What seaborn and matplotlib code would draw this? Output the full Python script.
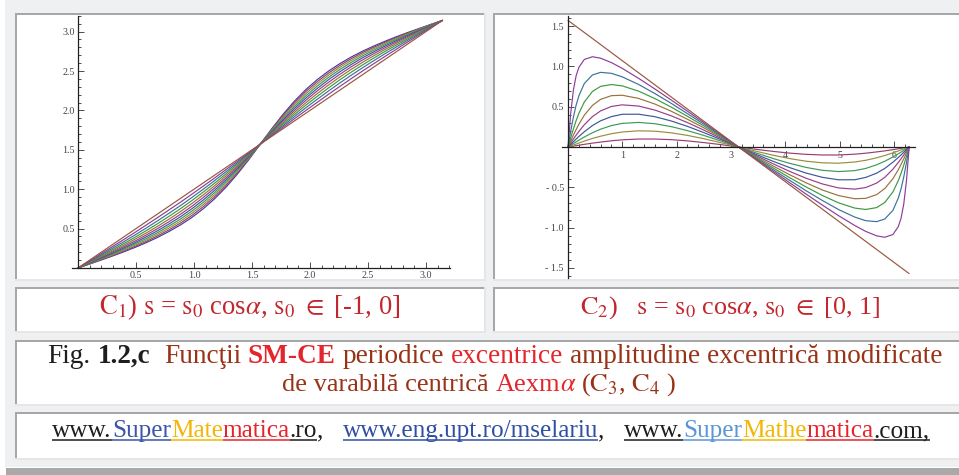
import matplotlib
matplotlib.use("Agg")
import numpy as np
import pandas as pd
import matplotlib.pyplot as plt
import seaborn as sns
from matplotlib.patches import Rectangle
from matplotlib.ticker import MultipleLocator

# ---------------- data: left panel C1 (s0 in [-1, 0]) ----------------
left_alpha = [0.000, 0.098, 0.196, 0.295, 0.393, 0.491, 0.589, 0.687, 0.785, 0.884, 0.982,
              1.080, 1.178, 1.276, 1.374, 1.473, 1.571, 1.669, 1.767, 1.865, 1.963, 2.062,
              2.160, 2.258, 2.356, 2.454, 2.553, 2.651, 2.749, 2.847, 2.945, 3.043, 3.142]
left_s0 = [-1.0, -0.9, -0.8, -0.7, -0.6, -0.5, -0.4, -0.3, -0.2, -0.1, 0.0]
left_m10 = [0, .049, .099, .151, .204, .261, .322, .389, .464, .547, .642, .752, .879, 1.025, 1.192, 1.376, 1.571,
            1.765, 1.949, 2.116, 2.263, 2.390, 2.499, 2.594, 2.678, 2.752, 2.819, 2.880, 2.937, 2.991, 3.042, 3.092, 3.142]
left_m09 = [0, .052, .104, .158, .215, .274, .338, .408, .484, .570, .667, .778, .904, 1.048, 1.209, 1.386, 1.571,
            1.756, 1.932, 2.094, 2.238, 2.364, 2.474, 2.571, 2.657, 2.734, 2.803, 2.867, 2.927, 2.983, 3.037, 3.090, 3.142]
left_m08 = [0, .055, .110, .167, .226, .289, .355, .428, .507, .595, .694, .805, .930, 1.071, 1.227, 1.395, 1.571,
            1.746, 1.915, 2.071, 2.211, 2.337, 2.448, 2.547, 2.635, 2.714, 2.786, 2.853, 2.915, 2.975, 3.032, 3.087, 3.142]
left_m07 = [0, .058, .116, .177, .239, .305, .374, .450, .532, .622, .722, .833, .957, 1.095, 1.245, 1.405, 1.571,
            1.737, 1.897, 2.047, 2.184, 2.308, 2.420, 2.520, 2.610, 2.692, 2.767, 2.837, 2.903, 2.965, 3.025, 3.084, 3.142]
left_m06 = [0, .061, .124, .187, .253, .322, .396, .474, .559, .651, .752, .863, .986, 1.119, 1.263, 1.414, 1.571,
            1.727, 1.879, 2.023, 2.156, 2.278, 2.390, 2.491, 2.583, 2.668, 2.746, 2.819, 2.888, 2.954, 3.018, 3.080, 3.142]
left_m05 = [0, .066, .132, .200, .269, .342, .419, .501, .588, .682, .784, .895, 1.015, 1.144, 1.281, 1.424, 1.571,
            1.717, 1.861, 1.998, 2.127, 2.247, 2.357, 2.459, 2.554, 2.641, 2.723, 2.799, 2.872, 2.942, 3.010, 3.076, 3.142]
left_m04 = [0, .070, .141, .213, .288, .365, .445, .530, .620, .716, .819, .928, 1.045, 1.169, 1.299, 1.434, 1.571,
            1.708, 1.842, 1.972, 2.096, 2.213, 2.323, 2.425, 2.521, 2.611, 2.696, 2.777, 2.854, 2.928, 3.000, 3.071, 3.142]
left_m03 = [0, .076, .152, .229, .308, .390, .475, .563, .656, .753, .856, .964, 1.077, 1.195, 1.318, 1.443, 1.571,
            1.698, 1.824, 1.946, 2.065, 2.178, 2.286, 2.389, 2.486, 2.578, 2.667, 2.752, 2.833, 2.912, 2.990, 3.066, 3.142]
left_m02 = [0, .082, .164, .248, .332, .419, .508, .600, .695, .793, .895, 1.000, 1.110, 1.222, 1.336, 1.453, 1.571,
            1.688, 1.805, 1.920, 2.032, 2.141, 2.247, 2.349, 2.447, 2.542, 2.634, 2.723, 2.809, 2.894, 2.977, 3.060, 3.142]
left_m01 = [0, .089, .179, .269, .360, .452, .546, .641, .738, .836, .937, 1.039, 1.143, 1.249, 1.355, 1.463, 1.571,
            1.679, 1.786, 1.893, 1.998, 2.102, 2.205, 2.305, 2.404, 2.501, 2.596, 2.689, 2.781, 2.873, 2.963, 3.052, 3.142]
left_p00 = [0.000, 0.098, 0.196, 0.295, 0.393, 0.491, 0.589, 0.687, 0.785, 0.884, 0.982,
            1.080, 1.178, 1.276, 1.374, 1.473, 1.571, 1.669, 1.767, 1.865, 1.963, 2.062,
            2.160, 2.258, 2.356, 2.454, 2.553, 2.651, 2.749, 2.847, 2.945, 3.043, 3.142]
left_curves = [left_m10, left_m09, left_m08, left_m07, left_m06, left_m05,
               left_m04, left_m03, left_m02, left_m01, left_p00]
left_colors = ['#3f3d99', '#993d71', '#998d3d', '#3d9958', '#3d5799', '#993d8b',
               '#99723d', '#3d993e', '#3d7199', '#8c3d99', '#99573d']
left_xticks = [0.5, 1.0, 1.5, 2.0, 2.5, 3.0]
left_yticks = [0.5, 1.0, 1.5, 2.0, 2.5, 3.0]

# ---------------- data: right panel C2 (s0 in [0, 1]) ----------------
right_alpha = [0, 0.05, 0.1, 0.15, 0.2, 0.3, 0.45, 0.6, 0.8, 1.0, 1.3, 1.6, 1.9, 2.2, 2.5, 2.8, 3.142,
               3.483, 3.783, 4.083, 4.383, 4.683, 4.983, 5.283, 5.483, 5.683, 5.833, 5.983,
               6.083, 6.133, 6.183, 6.233, 6.283]
right_s0 = [0.1, 0.2, 0.3, 0.4, 0.5, 0.6, 0.7, 0.8, 0.9]
right_01 = [0, .006, .011, .017, .022, .033, .048, .061, .077, .089, .099, .099, .091, .076, .055, .031, 0,
            -.031, -.055, -.076, -.091, -.099, -.099, -.089, -.077, -.061, -.048, -.033, -.022, -.017, -.011, -.006, 0]
right_02 = [0, .012, .025, .037, .049, .073, .106, .134, .165, .186, .201, .196, .176, .144, .103, .056, 0,
            -.056, -.103, -.144, -.176, -.196, -.201, -.186, -.165, -.134, -.106, -.073, -.049, -.037, -.025, -.012, 0]
right_03 = [0, .021, .043, .064, .084, .124, .177, .221, .266, .293, .305, .289, .253, .203, .144, .078, 0,
            -.078, -.144, -.203, -.253, -.289, -.305, -.293, -.266, -.221, -.177, -.124, -.084, -.064, -.043, -.021, 0]
right_04 = [0, .033, .066, .099, .130, .189, .266, .325, .377, .406, .407, .376, .323, .256, .179, .097, 0,
            -.097, -.179, -.256, -.323, -.376, -.407, -.406, -.377, -.325, -.266, -.189, -.130, -.099, -.066, -.033, 0]
right_05 = [0, .050, .099, .147, .192, .276, .377, .448, .503, .523, .508, .458, .387, .303, .210, .113, 0,
            -.113, -.210, -.303, -.387, -.458, -.508, -.523, -.503, -.448, -.377, -.276, -.192, -.147, -.099, -.050, 0]
right_06 = [0, .075, .148, .217, .282, .394, .516, .591, .637, .642, .603, .533, .444, .344, .238, .128, 0,
            -.128, -.238, -.344, -.444, -.533, -.603, -.642, -.637, -.591, -.516, -.394, -.282, -.217, -.148, -.075, 0]
right_07 = [0, .116, .226, .328, .417, .558, .689, .752, .775, .758, .693, .601, .495, .381, .262, .140, 0,
            -.140, -.262, -.381, -.495, -.601, -.693, -.758, -.775, -.752, -.689, -.558, -.417, -.328, -.226, -.116, 0]
right_08 = [0, .196, .373, .520, .634, .787, .894, .926, .914, .870, .776, .663, .542, .414, .284, .152, 0,
            -.152, -.284, -.414, -.542, -.663, -.776, -.870, -.914, -.926, -.894, -.787, -.634, -.520, -.373, -.196, 0]
right_09 = [0, .419, .710, .885, .988, 1.086, 1.120, 1.102, 1.047, .975, .852, .720, .583, .444, .303, .162, 0,
            -.162, -.303, -.444, -.583, -.720, -.852, -.975, -1.047, -1.102, -1.120, -1.086, -.988, -.885, -.710, -.419, 0]
right_curves = [right_01, right_02, right_03, right_04, right_05, right_06, right_07, right_08, right_09]
right_line_s0 = 1.0
right_line_alpha = [0.0, 6.283]
right_line_y = [1.571, -1.571]
right_colors = ['#993d71', '#998d3d', '#3d9958', '#3d5799', '#993d8b', '#99723d',
                '#3d993e', '#3d7199', '#8c3d99', '#99573d']
right_xticks = [1, 2, 3, 4, 5, 6]
right_yticks = [-1.5, -1.0, -0.5, 0.5, 1.0, 1.5]
right_yticklabels = ['- 1.5', '- 1.0', '- 0.5', '0.5', '1.0', '1.5']

# ---------------- texts ----------------
cap_left = r"$\mathrm{C}_1$) $\mathrm{s}$ = $\mathrm{s}_0$ cos$\alpha$, $\mathrm{s}_0$ $\in$ [-1, 0]"
cap_right = r"$\mathrm{C}_2$)   $\mathrm{s}$ = $\mathrm{s}_0$ cos$\alpha$, $\mathrm{s}_0$ $\in$ [0, 1]"
BLACK, BROWN, RED = '#1e1e1e', '#993318', '#e3262b'
fig_line1 = [("Fig. ", BLACK, 'normal', False), ("1.2,c", BLACK, 'bold', False),
             ("  Funcţii ", BROWN, 'normal', False), ("SM-CE", RED, 'bold', False),
             (" periodice ", BROWN, 'normal', False), ("excentrice", RED, 'normal', False),
             (" amplitudine excentrică modificate", BROWN, 'normal', False)]
fig_line2 = [("de varabilă centrică ", BROWN, 'normal', False), ("Aexm", RED, 'normal', False),
             (r"$\alpha$", RED, 'normal', False),
             (r" ($\mathrm{C}_3$, $\mathrm{C}_4$ )", BROWN, 'normal', False)]
url_line = [("www.", BLACK, 'normal', True), ("Super", '#3b55a8', 'normal', True),
            ("Mate", '#f2b705', 'normal', True), ("matica", '#e8232a', 'normal', True),
            (".ro", BLACK, 'normal', True), (",   ", BLACK, 'normal', False),
            ("www.eng.upt.ro/mselariu", '#2f4fa2', 'normal', True), (",   ", BLACK, 'normal', False),
            ("www.", BLACK, 'normal', True), ("Super", '#5b95d8', 'normal', True),
            ("Mathe", '#f2b705', 'normal', True), ("matica", '#e8232a', 'normal', True),
            (".com,", BLACK, 'normal', True)]

# ---------------- style ----------------
sns.set_theme(style="white")
plt.rcParams['font.family'] = ['Liberation Serif', 'DejaVu Serif']
plt.rcParams['mathtext.fontset'] = 'stix'

W, H = 959, 475
fig = plt.figure(figsize=(W / 100, H / 100), dpi=100, facecolor='white')
bg = fig.add_axes([0, 0, 1, 1], zorder=0)
bg.set_xlim(0, W)
bg.set_ylim(H, 0)
bg.axis('off')

bg.add_patch(Rectangle((5, 0), W - 5, 467, color='#eff0f2', lw=0))
bg.add_patch(Rectangle((6, 467.5), W - 6, 8, color='#a9a9ab', lw=0))
DARK, LIGHT = '#a7a7a9', '#e6e6e8'
cells = [(15, 13, 486, 281), (493, 13, 961, 281), (15, 287, 486, 333),
         (493, 287, 961, 333), (15, 340, 961, 406), (15, 412, 961, 460)]
for x0, y0, x1, y1 in cells:
    bg.add_patch(Rectangle((x0, y0), x1 - x0, y1 - y0, color='white', lw=0))
    bg.add_patch(Rectangle((x0, y0), x1 - x0, 2, color=DARK, lw=0))
    bg.add_patch(Rectangle((x0, y0), 2, y1 - y0, color=DARK, lw=0))
    bg.add_patch(Rectangle((x0, y1 - 2), x1 - x0, 2, color=LIGHT, lw=0))
    bg.add_patch(Rectangle((x1 - 2, y0), 2, y1 - y0, color=LIGHT, lw=0))

renderer = fig.canvas.get_renderer()


def seg_width(s, size, weight):
    if s == "":
        return 0.0
    t = bg.text(0, 0, "|" + s + "|", fontsize=size, fontweight=weight)
    w = t.get_window_extent(renderer).width
    t.remove()
    t = bg.text(0, 0, "||", fontsize=size, fontweight=weight)
    w -= t.get_window_extent(renderer).width
    t.remove()
    return w


def rich_line(segs, cx, base_y, size=None, target=None, ul_off=3.0):
    if target is not None:
        tot = sum(seg_width(s, 20, w) for s, c, w, u in segs)
        size = 20 * target / tot
    widths = [seg_width(s, size, w) for s, c, w, u in segs]
    x = cx - sum(widths) / 2
    for (s, c, w, u), wd in zip(segs, widths):
        core = s.strip()
        lead = seg_width(s[:len(s) - len(s.lstrip())], size, w)
        if core:
            cw = seg_width(core, size, w)
            bg.text(x + lead, base_y, core, fontsize=size, color=c, fontweight=w,
                    ha='left', va='baseline')
            if u:
                bg.plot([x + lead, x + lead + cw], [base_y + ul_off] * 2, color=c,
                        lw=1.1, solid_capstyle='butt')
        x += wd
    return size


CAPRED = '#c1272d'
rich_line([(cap_left, CAPRED, 'normal', False)], 249.5, 314, target=301)
rich_line([(cap_right, CAPRED, 'normal', False)], 730, 314, target=300)
rich_line(fig_line1, 495, 363, target=894)
rich_line(fig_line2, 479, 391, target=394)
rich_line(url_line, 491, 437, target=878)


# ---------------- plots ----------------
def px_axes(x0, y0, sx, sy, xlim, ylim):
    left = (x0 + xlim[0] * sx) / W
    bottom = (H - (y0 - ylim[0] * sy)) / H
    width = (xlim[1] - xlim[0]) * sx / W
    height = (ylim[1] - ylim[0]) * sy / H
    ax = fig.add_axes([left, bottom, width, height], zorder=3)
    ax.set_xlim(*xlim)
    ax.set_ylim(*ylim)
    return ax


def style(ax, xt, xtl, xminor, yt, ytl, yminor, xpad, ypad):
    ax.patch.set_alpha(0)
    ax.set_axisbelow(True)
    for s in ['top', 'right']:
        ax.spines[s].set_visible(False)
    for s in ['left', 'bottom']:
        ax.spines[s].set_position(('data', 0))
        ax.spines[s].set_color('#202020')
        ax.spines[s].set_linewidth(0.9)
    ax.set_xticks(xt, xtl)
    ax.set_yticks(yt, ytl)
    ax.xaxis.set_minor_locator(MultipleLocator(xminor))
    ax.yaxis.set_minor_locator(MultipleLocator(yminor))
    ax.tick_params(which='both', direction='in', color='#303030', width=0.6,
                   bottom=True, left=True, top=False, right=False,
                   labelsize=7.2, labelcolor='#444444')
    ax.tick_params(which='major', length=4)
    ax.tick_params(which='minor', length=2.3)
    ax.tick_params(axis='x', pad=xpad)
    ax.tick_params(axis='y', pad=ypad)
    ax.set_xlabel('')
    ax.set_ylabel('')
    ax.grid(False)


axL = px_axes(78.0, 268.0, 116.0, 78.8, (-0.05, 3.21), (0.0, 3.2))
dfL = pd.concat([pd.DataFrame({'alpha': left_alpha, 'A': ys, 's0': s})
                 for s, ys in zip(left_s0, left_curves)], ignore_index=True)
sns.lineplot(data=dfL, x='alpha', y='A', hue='s0', hue_order=left_s0,
             palette=dict(zip(left_s0, left_colors)), estimator=None, sort=False,
             legend=False, linewidth=0.85, ax=axL)
axL.set_xlim(-0.05, 3.21)
axL.set_ylim(0.0, 3.2)
style(axL, left_xticks, [f"{v:.1f}" for v in left_xticks], 0.1,
      left_yticks, [f"{v:.1f}" for v in left_yticks], 0.1, 2.5, 2.5)

axR = px_axes(568.0, 147.0, 54.3, 80.6, (-0.11, 6.39), (-1.625, 1.625))
dfR = pd.concat([pd.DataFrame({'alpha': right_alpha, 'A': ys, 's0': s})
                 for s, ys in zip(right_s0, right_curves)] +
                [pd.DataFrame({'alpha': right_line_alpha, 'A': right_line_y, 's0': right_line_s0})],
                ignore_index=True)
r_order = right_s0 + [right_line_s0]
sns.lineplot(data=dfR, x='alpha', y='A', hue='s0', hue_order=r_order,
             palette=dict(zip(r_order, right_colors)), estimator=None, sort=False,
             legend=False, linewidth=0.85, ax=axR)
axR.set_xlim(-0.11, 6.39)
axR.set_ylim(-1.625, 1.625)
style(axR, right_xticks, [str(v) for v in right_xticks], 0.2,
      right_yticks, right_yticklabels, 0.1, 3.0, 3.0)

fig.savefig('out.png', dpi=100, facecolor='white')
